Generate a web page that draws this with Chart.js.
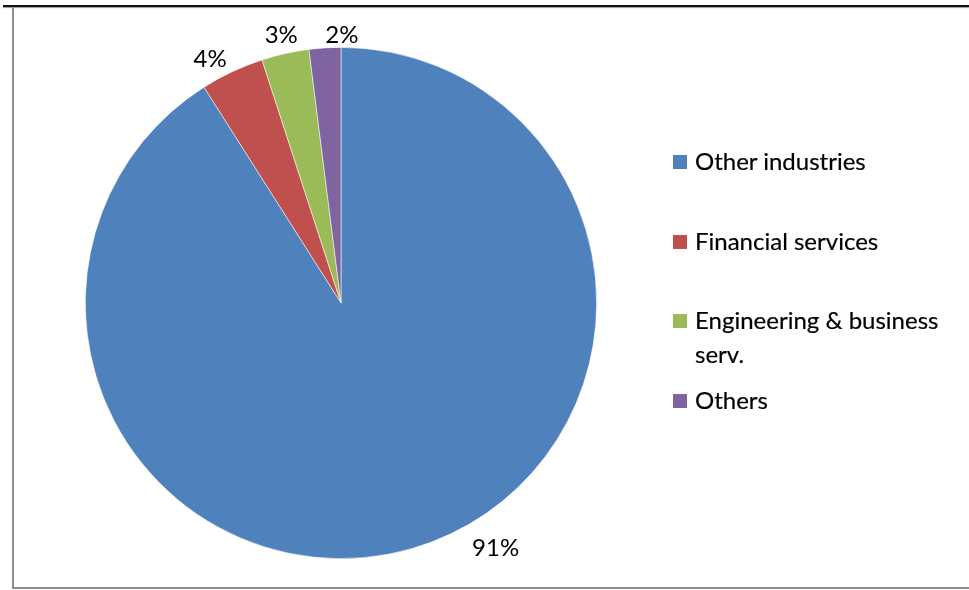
<!DOCTYPE html>
<html>
<head>
<meta charset="utf-8">
<script src="https://cdn.jsdelivr.net/npm/chart.js@4.4.1/dist/chart.umd.min.js"></script>
<style>
  html, body { margin: 0; padding: 0; background: #fff; }
  #wrap { position: relative; width: 969px; height: 590px; overflow: hidden; font-family: Lato, "Open Sans", sans-serif; }
  #chart { position: absolute; left: 0; top: 0; }
  /* frame lines around the chart */
  .topline { position: absolute; left: 3px; right: 0; top: 5px; height: 2px; background: #111; box-shadow: 0 1px 1px #9a9a9a; }
  .frame { position: absolute; left: 12px; top: 7px; right: -4px; bottom: 1px; border-left: 2px solid #8e8e8e; border-bottom: 2px solid #8e8e8e; }
  #legend { position: absolute; left: 673px; top: 144px; }
  .item { position: absolute; left: 0; display: flex; align-items: flex-start; }
  .box { width: 14px; height: 14px; margin-top: 11px; margin-right: 8px; flex: none; }
  .txt { font-size: 24px; line-height: 34px; color: #000; width: 262px; -webkit-text-stroke: 0.2px #000; }
</style>
</head>
<body>
<div id="wrap">
  <canvas id="chart" width="969" height="590"></canvas>
  <div class="frame"></div>
  <div class="topline"></div>
  <div id="legend"></div>
</div>
<script>
// sector shares (percent)
const categories = ['Other industries', 'Financial services', 'Engineering & business serv.', 'Others'];
const shares = [91, 4, 3, 2];
const sliceColors = ['#4F81BD', '#C0504D', '#9BBB59', '#8064A2'];

// percent labels just outside each slice
const outsideLabels = {
  id: 'outsideLabels',
  afterDatasetsDraw(chart, args, opts) {
    const ctx = chart.ctx;
    const meta = chart.getDatasetMeta(0);
    ctx.save();
    ctx.font = opts.font;
    ctx.fillStyle = opts.color;
    ctx.textAlign = 'center';
    ctx.textBaseline = 'middle';
    meta.data.forEach((arc, i) => {
      const p = arc.getProps(['x', 'y', 'startAngle', 'endAngle', 'outerRadius'], true);
      const nudge = opts.nudge[i] || {};
      const a = (p.startAngle + p.endAngle) / 2 + (nudge.deg || 0) * Math.PI / 180;
      const text = chart.data.datasets[0].data[i] + '%';
      const w = ctx.measureText(text).width;
      const cos = Math.cos(a), sin = Math.sin(a);
      const r = p.outerRadius + opts.gap + Math.abs(cos) * w / 2 + Math.abs(sin) * opts.boxHeight / 2 + (nudge.dr || 0);
      ctx.fillText(text, p.x + cos * r, p.y + sin * r);
    });
    ctx.restore();
  }
};

const chart = new Chart(document.getElementById('chart'), {
  type: 'pie',
  data: {
    labels: categories,
    datasets: [{
      data: shares,
      backgroundColor: sliceColors,
      borderColor: 'rgba(255,255,255,0.7)',
      borderWidth: 0.75
    }]
  },
  options: {
    responsive: false,
    animation: false,
    layout: { padding: { left: 85, right: 372, top: 47, bottom: 31 } },
    plugins: {
      legend: { display: false },
      tooltip: { enabled: false },
      outsideLabels: {
        font: '24px Lato, "Open Sans", sans-serif',
        color: '#000',
        gap: 2,
        boxHeight: 26,
        nudge: [{ deg: -16, dr: 9 }, { deg: -3 }, {}, { deg: 3.8, dr: -3 }]
      }
    }
  },
  plugins: [outsideLabels]
});

// legend built from the chart's own legend items
const legendEl = document.getElementById('legend');
chart.options.plugins.legend.labels.generateLabels(chart).forEach((it, i) => {
  const row = document.createElement('div');
  row.className = 'item';
  row.style.top = (i * 79.5) + 'px';
  row.innerHTML = `<span class="box" style="background:${it.fillStyle}"></span><span class="txt">${it.text.replace('&', '&amp;')}</span>`;
  legendEl.appendChild(row);
});
</script>
</body>
</html>
